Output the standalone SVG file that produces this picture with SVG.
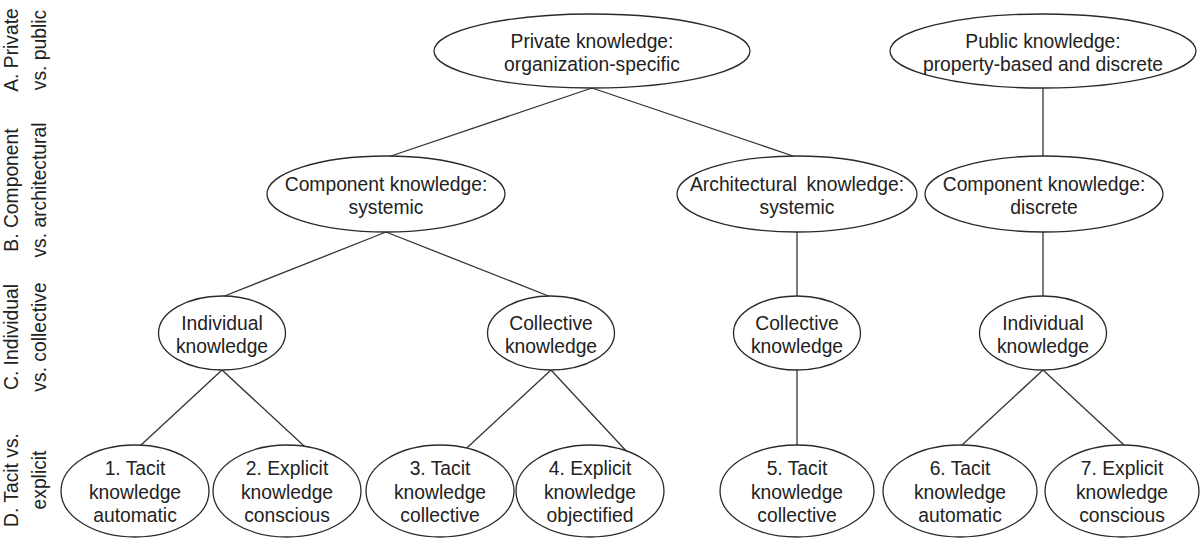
<svg xmlns="http://www.w3.org/2000/svg" width="1201" height="538" viewBox="0 0 1201 538">
<style>
text{font-family:"Liberation Sans",Arial,sans-serif;font-size:19.3px;fill:#222;text-anchor:middle}
.n ellipse{fill:#fff;stroke:#2a2a2a;stroke-width:1.3}
#connectors path{fill:none;stroke:#333;stroke-width:1.3}
</style>
<rect width="1201" height="538" fill="#fff"/>
<g id="axis-labels">
<g transform="translate(18,50) rotate(-90)"><text x="0" y="0">A. Private</text><text x="0" y="28">vs. public</text></g>
<g transform="translate(18,190) rotate(-90)"><text x="0" y="0">B. Component</text><text x="0" y="28">vs. architectural</text></g>
<g transform="translate(18,337) rotate(-90)"><text x="0" y="0">C. Individual</text><text x="0" y="28">vs. collective</text></g>
<g transform="translate(18,480) rotate(-90)"><text x="0" y="0">D. Tacit vs.</text><text x="0" y="28">explicit</text></g>
</g>
<g id="connectors">
<path d="M592,88 L388,157"/>
<path d="M592,88 L796,157"/>
<path d="M1043,88 V157"/>
<path d="M386,232 L222,297"/>
<path d="M386,232 L551,297"/>
<path d="M797,232 V297"/>
<path d="M1043,232 V297"/>
<path d="M222,370 L127,458"/>
<path d="M222,370 L317,458"/>
<path d="M551,370 L456,458"/>
<path d="M551,370 L629,454"/>
<path d="M797,370 V446"/>
<path d="M1043,370 L948,458"/>
<path d="M1043,370 L1138,458"/>
</g>
<g id="A1" class="n"><ellipse cx="592" cy="51" rx="158" ry="37"/><text x="592" y="47.5">Private knowledge:</text><text x="592" y="70.5">organization-specific</text></g>
<g id="A2" class="n"><ellipse cx="1043" cy="51" rx="153" ry="37"/><text x="1043" y="47.5">Public knowledge:</text><text x="1043" y="70.5">property-based and discrete</text></g>
<g id="B1" class="n"><ellipse cx="386" cy="194" rx="119" ry="38"/><text x="386" y="190.5">Component knowledge:</text><text x="386" y="213.5">systemic</text></g>
<g id="B2" class="n"><ellipse cx="797" cy="194" rx="120" ry="38"/><text x="797" y="190.5" word-spacing="4">Architectural knowledge:</text><text x="797" y="213.5">systemic</text></g>
<g id="B3" class="n"><ellipse cx="1044" cy="194" rx="119" ry="38"/><text x="1044" y="190.5">Component knowledge:</text><text x="1044" y="213.5">discrete</text></g>
<g id="C1" class="n"><ellipse cx="222" cy="333" rx="63.5" ry="37"/><text x="222" y="329.5">Individual</text><text x="222" y="352.5">knowledge</text></g>
<g id="C2" class="n"><ellipse cx="551" cy="333" rx="63.5" ry="37"/><text x="551" y="329.5">Collective</text><text x="551" y="352.5">knowledge</text></g>
<g id="C3" class="n"><ellipse cx="797" cy="333" rx="63.5" ry="37"/><text x="797" y="329.5">Collective</text><text x="797" y="352.5">knowledge</text></g>
<g id="C4" class="n"><ellipse cx="1043" cy="333" rx="63.5" ry="37"/><text x="1043" y="329.5">Individual</text><text x="1043" y="352.5">knowledge</text></g>
<g id="D1" class="n"><ellipse cx="135" cy="491" rx="74" ry="46"/><text x="135" y="475">1. Tacit</text><text x="135" y="498.5">knowledge</text><text x="135" y="522">automatic</text></g>
<g id="D2" class="n"><ellipse cx="287" cy="491" rx="74" ry="46"/><text x="287" y="475">2. Explicit</text><text x="287" y="498.5">knowledge</text><text x="287" y="522">conscious</text></g>
<g id="D3" class="n"><ellipse cx="440" cy="491" rx="74" ry="46"/><text x="440" y="475">3. Tacit</text><text x="440" y="498.5">knowledge</text><text x="440" y="522">collective</text></g>
<g id="D4" class="n"><ellipse cx="590" cy="491" rx="74" ry="46"/><text x="590" y="475">4. Explicit</text><text x="590" y="498.5">knowledge</text><text x="590" y="522">objectified</text></g>
<g id="D5" class="n"><ellipse cx="797" cy="491" rx="77" ry="46"/><text x="797" y="475">5. Tacit</text><text x="797" y="498.5">knowledge</text><text x="797" y="522">collective</text></g>
<g id="D6" class="n"><ellipse cx="960" cy="491" rx="77" ry="46"/><text x="960" y="475">6. Tacit</text><text x="960" y="498.5">knowledge</text><text x="960" y="522">automatic</text></g>
<g id="D7" class="n"><ellipse cx="1122" cy="491" rx="77" ry="46"/><text x="1122" y="475">7. Explicit</text><text x="1122" y="498.5">knowledge</text><text x="1122" y="522">conscious</text></g>
</svg>
